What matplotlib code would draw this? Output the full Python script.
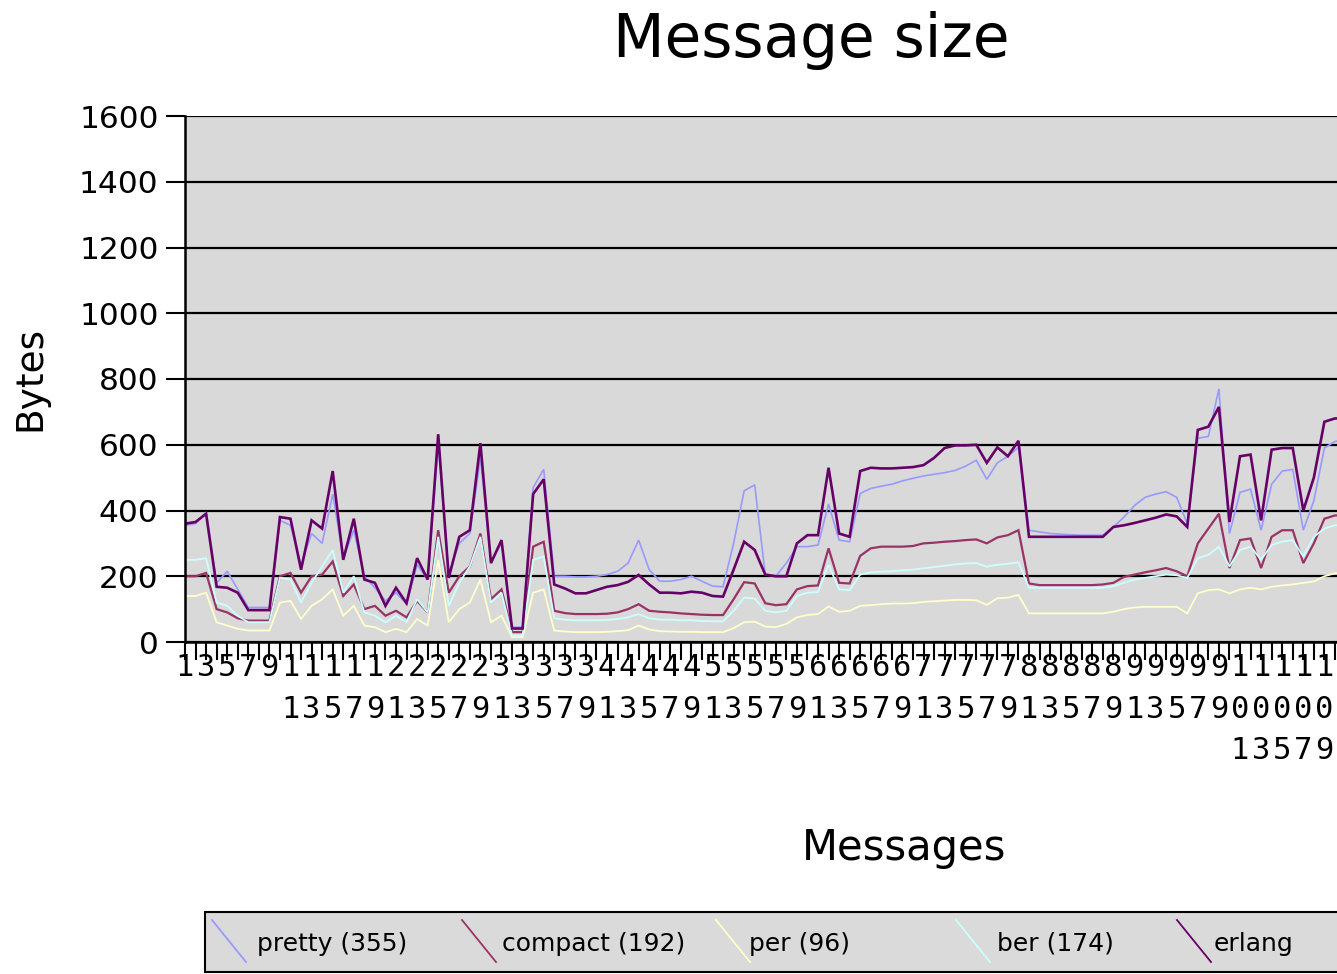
import matplotlib
matplotlib.use('Agg')
import matplotlib.pyplot as plt
from matplotlib.patches import Rectangle
from matplotlib.lines import Line2D

# message sizes in bytes, messages 1..111 (chart is cut off on the right)
pretty = [355, 360, 395, 180, 215, 160, 105, 105, 105, 370,
          355, 235, 330, 300, 450, 255, 340, 200, 165, 125,
          150, 115, 235, 190, 600, 210, 300, 330, 560, 245,
          300, 45, 45, 470, 525, 200, 200, 198, 198, 200,
          205, 215, 240, 310, 220, 185, 185, 190, 200, 185,
          170, 168, 300, 460, 478, 205, 200, 240, 290, 290,
          295, 420, 310, 305, 452, 467, 474, 480, 490, 498,
          505, 510, 515, 522, 535, 553, 495, 545, 565, 592,
          340, 335, 330, 328, 326, 325, 325, 325, 350, 380,
          415, 440, 450, 457, 440, 360, 620, 625, 770, 330,
          455, 465, 340, 480, 520, 525, 340, 430, 590, 610, 615]
compact = [200, 200, 210, 100, 90, 72, 65, 65, 65, 200,
           210, 150, 200, 205, 245, 140, 175, 100, 110, 80,
           95, 75, 125, 90, 340, 150, 200, 230, 330, 130,
           160, 30, 30, 290, 305, 95, 88, 85, 85, 85,
           86, 90, 100, 115, 95, 92, 90, 87, 85, 83,
           82, 82, 130, 182, 178, 118, 112, 115, 160, 170,
           172, 285, 180, 178, 262, 285, 290, 290, 290, 292,
           300, 302, 305, 307, 310, 312, 300, 318, 325, 340,
           178, 173, 173, 173, 173, 173, 173, 175, 180, 198,
           205, 212, 218, 225, 215, 200, 300, 345, 390, 225,
           310, 315, 225, 320, 340, 340, 240, 300, 375, 385, 385]
per = [140, 140, 150, 60, 50, 40, 35, 35, 35, 120,
       125, 70, 110, 130, 160, 80, 110, 50, 45, 30,
       40, 30, 70, 50, 250, 60, 100, 120, 190, 60,
       80, 15, 15, 150, 160, 35, 32, 30, 30, 30,
       31, 33, 36, 50, 38, 33, 32, 31, 31, 30,
       30, 30, 42, 60, 62, 47, 45, 55, 75, 82,
       85, 108, 92, 95, 110, 112, 115, 117, 117, 118,
       122, 124, 126, 128, 128, 127, 113, 133, 135, 143,
       87, 87, 87, 87, 87, 87, 87, 87, 92, 100,
       105, 107, 107, 107, 107, 87, 148, 158, 160, 148,
       160, 165, 160, 168, 172, 175, 180, 184, 200, 209, 210]
ber = [250, 250, 255, 120, 110, 80, 60, 60, 60, 195,
       190, 120, 180, 230, 280, 150, 200, 90, 80, 60,
       80, 60, 130, 90, 320, 110, 180, 230, 320, 120,
       150, 20, 20, 250, 260, 72, 68, 66, 66, 66,
       67, 70, 75, 85, 72, 68, 68, 66, 66, 64,
       63, 63, 95, 135, 132, 95, 90, 95, 140, 150,
       152, 235, 160, 158, 205, 212, 214, 215, 218, 220,
       224, 228, 232, 236, 239, 240, 229, 235, 238, 242,
       165, 165, 165, 165, 165, 165, 165, 165, 170, 180,
       190, 195, 200, 205, 203, 195, 255, 265, 290, 230,
       280, 290, 250, 295, 305, 310, 260, 320, 345, 355, 355]
erlang = [360, 365, 390, 168, 165, 150, 97, 97, 97, 380,
          375, 220, 370, 345, 520, 250, 375, 190, 180, 110,
          165, 118, 255, 190, 632, 195, 320, 340, 605, 240,
          310, 41, 41, 450, 495, 175, 163, 148, 148, 158,
          168, 173, 183, 204, 175, 150, 150, 148, 153, 150,
          140, 138, 220, 305, 280, 205, 200, 200, 300, 325,
          325, 530, 330, 320, 520, 530, 528, 528, 530, 532,
          538, 560, 590, 598, 598, 600, 545, 592, 565, 612,
          320, 320, 320, 320, 320, 320, 320, 320, 350, 355,
          362, 370, 378, 388, 382, 350, 645, 655, 715, 365,
          565, 570, 370, 585, 590, 590, 400, 500, 670, 680, 680]

series_names = ['pretty (355)', 'compact (192)', 'per (96)', 'ber (174)', 'erlang']
colors = ['#9999ff', '#993366', '#ffffcc', '#ccffff', '#660066']
widths = [1.2, 1.6, 1.3, 1.3, 1.9]

n_axis = 137      # categories on the full (uncropped) axis
last_label = 109  # last label that is visible in the cropped picture
messages = list(range(1, len(pretty) + 1))

W, H = 1337, 974
fig = plt.figure(figsize=(W / 100, H / 100), dpi=100)
fig.patch.set_facecolor('white')


def fx(px):
    return px / W


def fy(py):
    return 1 - py / H


# axes run past the right edge of the picture, like the cropped original
ax = fig.add_axes([fx(185), fy(642), fx(1625) - fx(185), fy(116) - fy(642)])
ax.set_facecolor('#d9d9d9')
ax.set_xlim(1, 1 + (1625 - 185) / 10.55)
ax.set_ylim(0, 1600)

ax.set_yticks(range(0, 1601, 200))
ax.yaxis.grid(True, color='black', linewidth=1.6)
ax.set_axisbelow(True)
ax.tick_params(axis='y', length=14, width=1.5, pad=5, labelsize=22.5)

ticks = list(range(1, n_axis + 1))
labels = ['\n'.join(str(m)) if m % 2 == 1 and m <= last_label else '' for m in ticks]
ax.set_xticks(ticks)
ax.set_xticklabels(labels, fontfamily='DejaVu Sans Mono', fontsize=22,
                   linespacing=1.55)
ax.tick_params(axis='x', length=13, width=1.5, pad=-5, direction='out')

for s in ['top', 'right']:
    ax.spines[s].set_visible(False)
for s in ['left', 'bottom']:
    ax.spines[s].set_linewidth(1.8)

all_series = [pretty, compact, per, ber, erlang]
for vals, c, lw in zip(all_series, colors, widths):
    ax.plot(messages, vals, color=c, linewidth=lw, solid_joinstyle='miter')

fig.text(fx(811), fy(40), 'Message size', ha='center', va='center', fontsize=43)
fig.text(fx(30), fy(378), 'Bytes', ha='center', va='center', rotation=90, fontsize=27)
fig.text(fx(904), fy(848), 'Messages', ha='center', va='center', fontsize=30)

# legend box, also cut off on the right
fig.add_artist(Rectangle((fx(205), fy(972)), 1.0, fy(912) - fy(972),
                         transform=fig.transFigure, facecolor='#dadada',
                         edgecolor='black', linewidth=1.5))
handle_x = [212, 462, 716, 956, 1177]
text_x = [257, 502, 749, 997, 1214]
for name, c, hx, tx in zip(series_names, colors, handle_x, text_x):
    fig.add_artist(Line2D([fx(hx), fx(hx + 34)], [fy(920), fy(962)],
                          transform=fig.transFigure, color=c, linewidth=1.3))
    fig.text(fx(tx), fy(944), name, ha='left', va='center', fontsize=18)

fig.savefig('out.png', dpi=100)
